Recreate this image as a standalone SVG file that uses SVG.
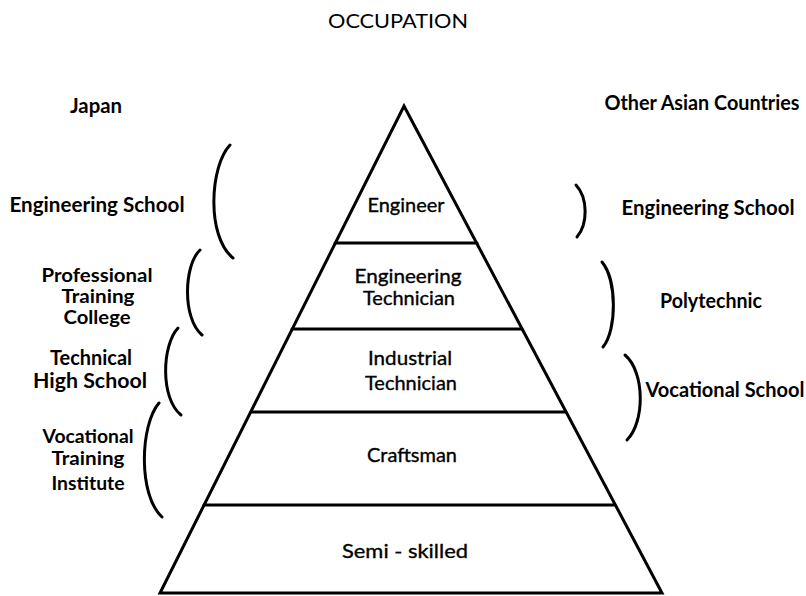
<svg xmlns="http://www.w3.org/2000/svg" width="806" height="596" viewBox="0 0 806 596">
<style>
text{font-family:Lato,"Liberation Sans",sans-serif;font-size:20px;fill:#000;text-anchor:middle}
.s{font-weight:700}
.m{font-size:19px}
.p{font-weight:400;stroke:#000;stroke-width:0.35}
.t{font-weight:400}
.ln{stroke:#000;stroke-width:3;fill:none;stroke-linecap:round}
.br{stroke:#000;stroke-width:3;fill:none;stroke-linecap:round}
</style>
<rect width="806" height="596" fill="#fff"/>
<text class="t" x="398" y="28" textLength="140" lengthAdjust="spacingAndGlyphs">OCCUPATION</text>
<g id="pyramid">
<polygon class="ln" points="404,106 662,593 160,593" stroke-linejoin="miter"/>
<line class="ln" x1="335" y1="243" x2="477" y2="243"/>
<line class="ln" x1="292" y1="329" x2="522" y2="329"/>
<line class="ln" x1="251" y1="412" x2="566" y2="412"/>
<line class="ln" x1="204" y1="505" x2="615" y2="505"/>
</g>
<g id="tier-engineer"><text class="p" x="406" y="212" textLength="77" lengthAdjust="spacingAndGlyphs">Engineer</text></g>
<g id="tier-engineering-technician"><text class="p m" x="408" y="283" textLength="107" lengthAdjust="spacingAndGlyphs">Engineering</text><text class="p m" x="409" y="305" textLength="92" lengthAdjust="spacingAndGlyphs">Technician</text></g>
<g id="tier-industrial-technician"><text class="p" x="410" y="365" textLength="84" lengthAdjust="spacingAndGlyphs">Industrial</text><text class="p" x="411" y="390" textLength="92" lengthAdjust="spacingAndGlyphs">Technician</text></g>
<g id="tier-craftsman"><text class="p" x="412" y="462" textLength="90" lengthAdjust="spacingAndGlyphs">Craftsman</text></g>
<g id="tier-semi-skilled"><text class="p" x="405" y="558" textLength="126" lengthAdjust="spacingAndGlyphs">Semi - skilled</text></g>
<g id="japan-header"><text class="s" x="96" y="113" textLength="52" lengthAdjust="spacingAndGlyphs">Japan</text></g>
<g id="jp-engineering-school"><text class="s" x="97" y="212" textLength="175" lengthAdjust="spacingAndGlyphs">Engineering School</text></g>
<g id="jp-professional-training-college"><text class="s m" x="97" y="282" textLength="111" lengthAdjust="spacingAndGlyphs">Professional</text><text class="s m" x="98" y="303" textLength="73" lengthAdjust="spacingAndGlyphs">Training</text><text class="s m" x="97" y="324" textLength="67" lengthAdjust="spacingAndGlyphs">College</text></g>
<g id="jp-technical-high-school"><text class="s" x="91" y="365" textLength="82" lengthAdjust="spacingAndGlyphs">Technical</text><text class="s" x="90" y="388" textLength="114" lengthAdjust="spacingAndGlyphs">High School</text></g>
<g id="jp-vocational-training-institute"><text class="s m" x="88" y="443" textLength="91" lengthAdjust="spacingAndGlyphs">Vocational</text><text class="s m" x="88" y="465" textLength="73" lengthAdjust="spacingAndGlyphs">Training</text><text class="s m" x="88" y="490" textLength="73" lengthAdjust="spacingAndGlyphs">Institute</text></g>
<g id="asia-header"><text class="s" x="702" y="110" textLength="195" lengthAdjust="spacingAndGlyphs">Other Asian Countries</text></g>
<g id="asia-engineering-school"><text class="s" x="708" y="215" textLength="173" lengthAdjust="spacingAndGlyphs">Engineering School</text></g>
<g id="asia-polytechnic"><text class="s" x="711" y="308" textLength="102" lengthAdjust="spacingAndGlyphs">Polytechnic</text></g>
<g id="asia-vocational-school"><text class="s" x="725" y="397" textLength="159" lengthAdjust="spacingAndGlyphs">Vocational School</text></g>
<g id="connectors">
<path class="br" d="M230,145 C210,166 206,236 233,258"/>
<path class="br" d="M200,250 C184,265 182,318 202,335"/>
<path class="br" d="M178,328 C162,345 160,398 181,415"/>
<path class="br" d="M159,403 C140,425 138,495 162,517"/>
<path class="br" d="M576,185 C588,198 588,224 577,237"/>
<path class="br" d="M602,262 C617,280 617,330 603,347"/>
<path class="br" d="M625,355 C645,372 645,422 627,440"/>
</g>
</svg>
